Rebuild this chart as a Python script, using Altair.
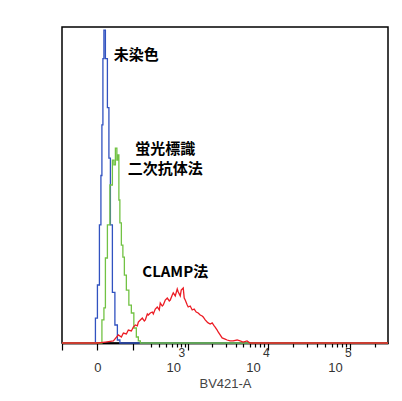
import altair as alt
import pandas as pd

# ---- data (fluorescence value, cell count) ----
blue_x = [-145, -7.5, -2.4, 2.4, 7.5, 10.1, 12.8, 15.6, 18.5, 24.4, 30.8, 34.1, 40.9, 48.2, 59.9, 68.2, 81.7, 290000]
blue_y = [0, 0, 15.8, 36.7, 74.7, 106, 138, 180, 198, 180, 149, 117, 74.7, 32, 11.4, 1.9, 0, 0]

green_x = [-145, 7.5, 15.6, 18.5, 24.4, 30.8, 40.9, 48.2, 52.0, 59.9, 64.0, 68.2, 72.6, 77.0, 86.4, 91.3,
           101.4, 112.1, 129.4, 141.8, 161.6, 175.8, 190.8, 206.7, 290000]
green_y = [0, 0, 14.6, 22.2, 53.8, 74.7, 100, 115.8, 112.7, 123.4, 115.8, 119, 90.5, 76, 62, 54.4,
           43, 33.5, 24, 19, 9.5, 3.8, 1.3, 0, 0]

red_x = [-145, 0, 21.4, 48.2, 68.2, 81.7, 91.3, 106.7, 117.7, 135.5, 148.2, 161.6, 175.8, 183.2, 198.7,
         214.9, 232.2, 241.2, 260.0, 269.8, 290.2, 311.7, 323.0, 346.4, 371.2, 397.5, 411.1, 439.7,
         454.6, 485.5, 518.3, 553.0, 571.0, 608.7, 628.4, 669.3, 712.7, 735.3, 782.5, 807.0, 858.3,
         885.0, 912.5, 969.9, 999.7, 1062, 1128, 1197, 1271, 1349, 1431, 1518, 1564, 1659, 1758,
         1811, 1920, 2035, 2157, 2220, 2352, 2421, 2565, 2718, 2963, 3137, 3418, 3724, 4174, 4545,
         4950, 5545, 6037, 290000]
red_y = [0, 0, 0.6, 1.3, 5.1, 3.8, 6.3, 5.7, 8.2, 7.6, 10.1, 11.4, 10.8, 13.3, 14.6,
         15.8, 13.9, 14.6, 18.4, 17.7, 19, 19.6, 18.4, 21.5, 22.8, 20.9, 25.3, 23.4,
         24.1, 27.2, 28.5, 26.6, 27.2, 30.4, 31.7, 29.8, 34.2, 32.3, 29.8, 33.5, 34.8,
         28.5, 27.2, 24.1, 22.8, 23.4, 20.9, 21.5, 19.6, 19, 17.7, 17.1, 16.5, 14.6, 13.3,
         12.7, 12, 12.7, 10.8, 10.1, 8.2, 7, 5.1, 3.2, 2.5, 1.9, 1.3, 1.3, 1.9, 1.3,
         0.6, 1.3, 0, 0]

series_names = ["未染色", "蛍光標識二次抗体法", "CLAMP法"]
series_colors = ["#3152c0", "#72c244", "#ec1c24"]

label_text = ["未染色", "蛍光標識\n二次抗体法", "CLAMP法"]
label_x = [168, 485, 669]
label_y = [182, 123, 45]

x_minor_ticks = [300, 400, 500, 600, 700, 800, 900,
                 2000, 3000, 4000, 5000, 6000, 7000, 8000, 9000,
                 20000, 30000, 40000, 50000, 60000, 70000, 80000, 90000, 200000]
x_major_ticks = [-145, 0, 148, 1000, 10000, 100000]
# tick labels: value, base text, exponent text
x_label_values = [0, 1000, 10000, 100000]
x_label_bases = ["0", "10", "10", "10"]
x_label_exponents = ["", "3", "4", "5"]
y_tick_values = [0, 50, 100, 150, 200]

# ---- build tables ----
rows = []
for name, xs, ys in zip(series_names, [blue_x, green_x, red_x], [blue_y, green_y, red_y]):
    for i, (xv, yv) in enumerate(zip(xs, ys)):
        rows.append({"series": name, "value": xv, "count": yv, "order": i})
df = pd.DataFrame(rows)
labels_df = pd.DataFrame({"text": label_text, "value": label_x, "count": label_y})

base_expr = " : ".join(
    f"datum.value == {v} ? '{b}'" for v, b in zip(x_label_values, x_label_bases)
) + " : ''"
exp_values = [v for v, e in zip(x_label_values, x_label_exponents) if e]
exp_expr = " : ".join(
    f"datum.value == {v} ? '{e}'" for v, e in zip(x_label_values, x_label_exponents) if e
) + " : ''"

x_scale = alt.Scale(type="symlog", constant=85.6, domain=[-145, 290000], nice=False)
y_scale = alt.Scale(domain=[0, 200], nice=False)

common_x_axis = dict(
    orient="bottom",
    grid=False,
    domainColor="black",
    domainWidth=1.5,
    tickColor="black",
    tickWidth=1.2,
    labelFlush=False,
    labelOverlap=False,
    labelFont="Liberation Sans",
    labelColor="#333333",
)
x_axis_major = alt.Axis(
    values=x_major_ticks,
    labelExpr=base_expr,
    title="BV421-A",
    tickSize=7,
    labelOffset={"condition": {"test": "datum.value == 0", "value": 0}, "value": -15},
    labelFontSize=13,
    labelPadding=11,
    titleFont="Liberation Sans",
    titleFontSize=13,
    titleFontWeight="normal",
    titleColor="#444444",
    titlePadding=3,
    **common_x_axis,
)
x_axis_minor = alt.Axis(
    values=x_minor_ticks,
    labels=False,
    title=None,
    tickSize=4,
    **common_x_axis,
)
x_axis_exp = alt.Axis(
    values=exp_values,
    labelExpr=exp_expr,
    title=None,
    ticks=False,
    tickSize=0,
    domain=False,
    labelFontSize=12,
    labelPadding=4,
    labelOffset={"condition": {"test": "datum.value == 1000", "value": -7}, "value": -2},
    **common_x_axis,
)
y_axis = alt.Axis(
    values=y_tick_values,
    labels=False,
    title="Number of Cells",
    grid=False,
    tickSize=6,
    tickColor="black",
    tickWidth=1.2,
    domainColor="black",
    domainWidth=1.5,
    titleFont="Liberation Sans",
    titleFontSize=15,
    titleFontWeight="normal",
    titleColor="#222222",
    titlePadding=9,
)

color_enc = alt.Color("series:N", scale=alt.Scale(domain=series_names, range=series_colors), legend=None)

base = alt.Chart(df)
blue_green = base.transform_filter(
    alt.FieldOneOfPredicate(field="series", oneOf=series_names[:2])
).mark_line(interpolate="step", strokeWidth=1.3).encode(
    x=alt.X("value:Q", scale=x_scale, axis=x_axis_major),
    y=alt.Y("count:Q", scale=y_scale, axis=y_axis),
    color=color_enc,
    order="order:Q",
)
red = base.transform_filter(
    alt.FieldEqualPredicate(field="series", equal=series_names[2])
).mark_line(strokeWidth=1.3).encode(
    x=alt.X("value:Q", scale=x_scale, axis=x_axis_minor),
    y=alt.Y("count:Q", scale=y_scale, axis=None),
    color=color_enc,
    order="order:Q",
)
texts = alt.Chart(labels_df).mark_text(
    font="Noto Sans CJK JP", fontSize=15, fontWeight="bold", color="black",
    lineBreak="\n", lineHeight=20, align="center", baseline="middle",
).encode(
    x=alt.X("value:Q", scale=x_scale, axis=x_axis_exp),
    y=alt.Y("count:Q", scale=y_scale, axis=None),
    text="text:N",
)

chart = alt.layer(blue_green, red, texts).resolve_axis(x="independent").properties(
    width=326,
    height=316,
    autosize=alt.AutoSizeParams(type="none"),
    padding={"left": 54, "top": 19, "right": 4, "bottom": 50},
    background="white",
).configure_view(stroke="black", strokeWidth=1.5)

chart.save("out.html", embed_options={"renderer": "svg", "actions": False})
